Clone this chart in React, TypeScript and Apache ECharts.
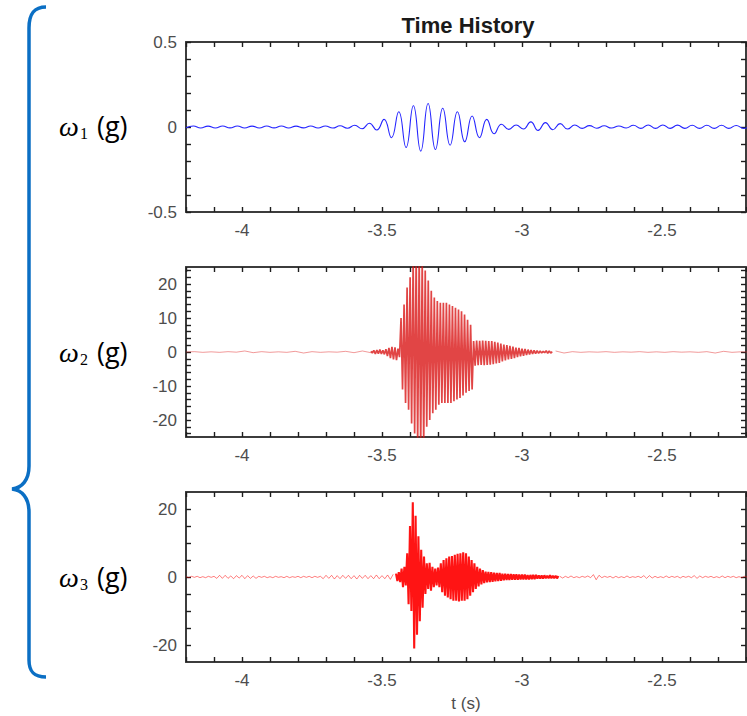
import React, { useEffect, useRef } from 'react';
import * as echarts from 'echarts';

// ---- axis ranges / ticks / labels ----
const X_MIN = -4.2;
const X_MAX = -2.2;
const X_TICKS = [-4.2, -4.1, -4, -3.9, -3.8, -3.7, -3.6, -3.5, -3.4, -3.3, -3.2, -3.1, -3, -2.9, -2.8, -2.7, -2.6, -2.5, -2.4, -2.3, -2.2];
const X_LABELS = [-4, -3.5, -3, -2.5];

const Y1_RANGE = [-0.5, 0.5];
const Y1_TICKS = [-0.5, -0.4, -0.3, -0.2, -0.1, 0, 0.1, 0.2, 0.3, 0.4, 0.5];
const Y1_LABELS = [-0.5, 0, 0.5];

const Y2_RANGE = [-25, 25];
const Y2_TICKS = [-24, -22, -20, -18, -16, -14, -12, -10, -8, -6, -4, -2, 0, 2, 4, 6, 8, 10, 12, 14, 16, 18, 20, 22, 24];
const Y2_LABELS = [-20, -10, 0, 10, 20];

const Y3_RANGE = [-25, 25];
const Y3_TICKS = [-20, -15, -10, -5, 0, 5, 10, 15, 20];
const Y3_LABELS = [-20, 0, 20];

// ---- ω1: sampled at peaks / troughs (start time, sample step, values) ----
const W1_T0 = -4.2;
const W1_DT = 0.0262;
const W1_VALUES = [
  -0.005, 0.006, -0.006, 0.005, -0.006, 0.006, -0.005, 0.006, -0.006, 0.005,
  -0.006, 0.006, -0.005, 0.006, -0.006, 0.005, -0.005, 0.006, -0.006, 0.006,
  -0.006, 0.007, -0.007, 0.01, -0.01, 0.022, -0.018, 0.045, -0.063, 0.09,
  -0.12, 0.125, -0.142, 0.138, -0.132, 0.11, -0.107, 0.09, -0.087, 0.065,
  -0.063, 0.045, -0.04, 0.016, -0.014, 0.012, -0.012, 0.03, -0.02, 0.026,
  -0.016, 0.02, -0.012, 0.012, -0.008, 0.008, -0.007, 0.007, -0.006, 0.006,
  -0.006, 0.01, -0.008, 0.012, -0.008, 0.012, -0.008, 0.011, -0.008, 0.01,
  -0.008, 0.01, -0.008, 0.01, -0.008, 0.009, -0.008, 0.009,
];

// ---- ω2: quiet lead-in, burst, quiet tail ----
const W2_A_T0 = -4.2;
const W2_A_DT = 0.03;
const W2_A_VALUES = [0, 0.1, -0.1, 0.05, -0.1, 0.1, -0.05, 0.3, -0.2, 0.1, -0.1, 0.05, -0.1, 0.2, -0.3, 0.1, -0.1, 0.05, -0.05, 0.2, -0.2, 0.3, -0.2];
const W2_B_T0 = -3.54;
const W2_B_DT = 0.0054;
const W2_B_VALUES = [
  0.2, -0.3, 0.5, -0.6, 0.6, -0.5, 0.7, -0.6, 0.5, -0.7,
  0.8, -1.2, 1.2, -1.8, 1.5, -2.2, 1.4, -2.4, 1.0, -1.5,
  10, -11, 14, -15, 19, -17, 22, -21, 27, -24,
  28, -27, 28, -28, 27, -27, 24, -22, 21, -20,
  18, -18, 16, -17, 15, -15.5, 14.5, -15, 14.5, -15,
  14.5, -15, 14, -15, 13.5, -14.5, 13, -14, 12.5, -13.5,
  12, -12.8, 11, -12, 9.5, -11.5, 8, -11, 3.2, -4,
  3.4, -3.9, 3.3, -3.8, 3.4, -3.9, 3.3, -3.8, 3.2, -3.7,
  3.2, -3.6, 3.0, -3.4, 2.8, -3.2, 2.5, -2.8, 2.2, -2.5,
  2.0, -2.2, 1.8, -2.0, 1.6, -1.8, 1.3, -1.5, 1.2, -1.3,
  1.0, -1.1, 0.9, -0.9, 0.7, -0.7, 0.6, -0.6, 0.5, -0.5,
  0.4, -0.4, 0.3, -0.3, 0.2, -0.2, 0.4, -0.4, 0.3, -0.3,
  0.1,
];
const W2_C_T0 = -2.88;
const W2_C_DT = 0.03;
const W2_C_VALUES = [0.3, -0.3, 0.1, -0.1, 0.05, -0.05, 0.1, -0.1, 0.05, -0.05, 0.1, -0.1, 0.05, -0.1, 0.1, -0.05, 0.05, -0.1, 0.1, -0.3, 0.2, -0.1, 0.05, 0];

// ---- ω3: quiet lead-in, burst, quiet tail ----
const W3_A_T0 = -4.2;
const W3_A_DT = 0.01;
const W3_A_VALUES = [
  0.1, -0.2, 0.2, -0.1, 0.2, -0.2, 0.1, -0.2, 0.2, -0.1, 0.2,
  -0.4, 0.5, -0.4, 0.5, -0.4, 0.3, -0.5, 0.4, -0.3, 0.5, -0.5, 0.4, -0.4, 0.3, -0.4,
  0.2, -0.1, 0.2, -0.2, 0.1, -0.2, 0.2, -0.1, 0.1, -0.2, 0.2, -0.2, 0.1, -0.1, 0.2, -0.2, 0.2, -0.1, 0.2, -0.2, 0.2, -0.1, 0.2,
  -0.5, 0.5, -0.4, 0.5, -0.6, 0.4, -0.5, 0.5, -0.4, 0.5, -0.5, 0.4, -0.6, 0.5, -0.4, 0.5, -0.5, 0.4, -0.5, 0.6, -0.5,
  0.4, -0.5, 0.6, -0.7, 0.8,
];
const W3_B_T0 = -3.45;
const W3_B_DT = 0.005;
const W3_B_VALUES = [
  1.0, -1.2, 1.4, -1.5, 2.5, -3, 3, -2.5, 7, -8,
  15, -10, 22, -21, 18, -17, 12, -13, 8, -9,
  6, -5, 4, -3.5, 4.2, -4, 3, -3, 2.5, -2.5,
  2.8, -3, 4, -4.5, 5, -5.5, 5.5, -6, 6, -6.5,
  6.2, -7, 6.5, -7, 6.8, -7.2, 7, -7, 7.3, -7,
  7, -6.5, 6, -5.5, 5, -4.5, 4, -3.5, 3, -2.8,
  2.5, -2.2, 2, -1.8, 1.6, -1.6, 1.5, -1.5, 1.4, -1.4,
  1.3, -1.3, 1.2, -1.2, 1.2, -1.1, 1.0, -1.0, 1.0, -0.9,
  0.9, -0.9, 0.9, -0.8, 0.8, -0.8, 0.8, -0.8, 0.7, -0.7,
  0.7, -0.7, 0.7, -0.7, 0.6, -0.7, 0.6, -0.6, 0.6, -0.6,
  0.6, -0.5, 0.5, -0.5, 0.5, -0.5, 0.5, -0.4, 0.4, -0.4,
  0.5, -0.4, 0.4, -0.4, 0.4, -0.4, 0.3,
];
const W3_C_T0 = -2.865;
const W3_C_DT = 0.01;
const W3_C_VALUES = [
  0.2, -0.3, 0.2, -0.2, 0.3, -0.2, 0.1, -0.2, 0.2, -0.1, 0.3, -0.2,
  0.7, -0.8, 0.5,
  -0.2, 0.2, -0.1, 0.2, -0.3, 0.2, -0.2, 0.1, -0.2, 0.3, -0.2, 0.1, -0.1, 0.2, -0.2,
  0.4, -0.4, 0.4, -0.3, 0.2, -0.2, 0.1, -0.2, 0.3, -0.2, 0.2, -0.1, 0.2, -0.3, 0.2,
  -0.1, 0.2, -0.2, 0.4, -0.4, 0.3, -0.2, 0.2, -0.1, 0.2, -0.2, 0.1, -0.2, 0.3, -0.2,
  0.2, -0.1, 0.2, -0.2, 0.1, -0.2, 0.2, -0.1, 0.2, -0.2,
];

const ROW_LABELS = ['1', '2', '3'];

// ---- helpers ----
const seg = (t0: number, dt: number, vals: number[]) => vals.map((v, i) => [t0 + i * dt, v]);
const isMult = (v: number, m: number) => Math.abs(v / m - Math.round(v / m)) < 1e-6;
const fmt = (v: number) => String(Math.round(v * 1000) / 1000);

const GRID_LEFT = 186;
const GRID_W = 560;
const GRID_TOPS = [42, 267, 492];
const GRID_H = 170;
const LABEL_Y = [126, 352, 577];

const AXIS_COLOR = '#3c3c3c';
const TICK_COLOR = '#1e1e1e';
const LABEL_COLOR = '#4d4d4d';
const FONT = '"Liberation Sans", Arial, sans-serif';

const BRACE_D = 'M46 7 C34 7 29 14 29 28 L29 466 C29 480 22 488 12 489 C22 490 29 498 29 512 L29 660 C29 672 34 677 46 677';

export default function App() {
  const ref = useRef<HTMLDivElement>(null);
  useEffect(() => {
    if (!ref.current) return;
    try {
      echarts.graphic.registerShape('brace', echarts.graphic.extendPath(BRACE_D, {}));
    } catch (e) {}
    const chart = echarts.init(ref.current, undefined, { renderer: 'svg' });

    const yCfg = [
      { range: Y1_RANGE, interval: 0.1, ticks: Y1_TICKS, labels: Y1_LABELS, mult: 0.5 },
      { range: Y2_RANGE, interval: 5, ticks: Y2_TICKS, labels: Y2_LABELS, mult: 10 },
      { range: Y3_RANGE, interval: 5, ticks: Y3_TICKS, labels: Y3_LABELS, mult: 20 },
    ];

    const grids = GRID_TOPS.map((top) => ({ left: GRID_LEFT, width: GRID_W, top, height: GRID_H, containLabel: false }));

    const axisLine = { show: true, onZero: false, lineStyle: { color: AXIS_COLOR, width: 2 } };
    const tickStyle = { color: TICK_COLOR, width: 1.4 };

    const xBottom = GRID_TOPS.map((_, g) => ({
      type: 'value', gridIndex: g, position: 'bottom', min: X_MIN, max: X_MAX, interval: 0.1,
      axisLine, splitLine: { show: false },
      axisTick: { show: true, inside: true, length: 5, customValues: X_TICKS, lineStyle: tickStyle },
      axisLabel: {
        show: true, customValues: X_LABELS, margin: 10, fontSize: 17, color: LABEL_COLOR, fontFamily: FONT,
        formatter: (v: number) => (isMult(v, 0.5) ? fmt(v) : ''),
      },
    }));
    const xTop = GRID_TOPS.map((_, g) => ({
      type: 'value', gridIndex: g, position: 'top', min: X_MIN, max: X_MAX, interval: 0.1,
      axisLine, splitLine: { show: false },
      axisTick: { show: true, inside: true, length: 5, customValues: X_TICKS, lineStyle: tickStyle },
      axisLabel: { show: false },
    }));
    const yLeft = yCfg.map((c, g) => ({
      type: 'value', gridIndex: g, position: 'left', min: c.range[0], max: c.range[1], interval: c.interval,
      axisLine, splitLine: { show: false },
      axisTick: { show: true, inside: true, length: 5, customValues: c.ticks, lineStyle: tickStyle },
      axisLabel: {
        show: true, customValues: c.labels, margin: 9, fontSize: 17, color: LABEL_COLOR, fontFamily: FONT,
        formatter: (v: number) => (isMult(v, c.mult) ? fmt(v) : ''),
      },
    }));
    const yRight = yCfg.map((c, g) => ({
      type: 'value', gridIndex: g, position: 'right', min: c.range[0], max: c.range[1], interval: c.interval,
      axisLine, splitLine: { show: false },
      axisTick: { show: true, inside: true, length: 5, customValues: c.ticks, lineStyle: tickStyle },
      axisLabel: { show: false },
    }));

    const w1 = seg(W1_T0, W1_DT, W1_VALUES);
    const w2A = seg(W2_A_T0, W2_A_DT, W2_A_VALUES);
    const w2B = seg(W2_B_T0, W2_B_DT, W2_B_VALUES);
    const w2C = seg(W2_C_T0, W2_C_DT, W2_C_VALUES);
    const w3A = seg(W3_A_T0, W3_A_DT, W3_A_VALUES);
    const w3B = seg(W3_B_T0, W3_B_DT, W3_B_VALUES);
    const w3C = seg(W3_C_T0, W3_C_DT, W3_C_VALUES);

    const graphic: any[] = [
      { type: 'brace', x: 0, y: 0, style: { stroke: '#0B6FC4', lineWidth: 3.5, fill: 'none' } },
      {
        type: 'text', x: GRID_LEFT + GRID_W / 2 + 2, y: 25,
        style: { text: 'Time History', fontSize: 22, fontWeight: 'bold', fontFamily: FONT, fill: '#1a1a1a', align: 'center', verticalAlign: 'middle' },
      },
      {
        type: 'text', x: GRID_LEFT + GRID_W / 2, y: 703,
        style: { text: 't (s)', fontSize: 17, fontFamily: FONT, fill: LABEL_COLOR, align: 'center', verticalAlign: 'middle' },
      },
    ];
    ROW_LABELS.forEach((n, i) => {
      const y = LABEL_Y[i];
      graphic.push(
        { type: 'text', x: 59, y, style: { text: 'ω', fontSize: 28, fontStyle: 'italic', fontFamily: '"Liberation Serif", serif', fill: '#000', align: 'left', verticalAlign: 'middle' } },
        { type: 'text', x: 80, y: y + 7, style: { text: n, fontSize: 16, fontFamily: '"Liberation Serif", serif', fill: '#000', align: 'left', verticalAlign: 'middle' } },
        { type: 'text', x: 97, y: y - 1, style: { text: '(g)', fontSize: 27, fontFamily: '"Open Sans", sans-serif', fill: '#000', align: 'left', verticalAlign: 'middle' } },
      );
    });

    const s2 = { type: 'line', showSymbol: false, symbol: 'none', clip: true, xAxisIndex: 1, yAxisIndex: 1 };
    const s3 = { type: 'line', showSymbol: false, symbol: 'none', clip: true, xAxisIndex: 2, yAxisIndex: 2 };

    chart.setOption({
      animation: false,
      backgroundColor: '#fff',
      grid: grids,
      xAxis: [...xBottom, ...xTop],
      yAxis: [...yLeft, ...yRight],
      graphic,
      series: [
        { type: 'line', xAxisIndex: 0, yAxisIndex: 0, data: w1, showSymbol: false, symbol: 'none', smooth: true, clip: true, lineStyle: { color: '#2424ff', width: 1.1 } },
        { ...s2, data: w2A, lineStyle: { color: 'rgba(225,30,30,0.5)', width: 0.9 } },
        { ...s2, data: w2B, lineStyle: { color: 'rgba(218,22,22,0.8)', width: 1.7 } },
        { ...s2, data: w2C, lineStyle: { color: 'rgba(225,30,30,0.5)', width: 0.9 } },
        { ...s3, data: w3A, lineStyle: { color: 'rgba(255,0,0,0.5)', width: 1 } },
        { ...s3, data: w3B, lineStyle: { color: 'rgba(255,0,0,0.92)', width: 2.1 } },
        { ...s3, data: w3C, lineStyle: { color: 'rgba(255,0,0,0.5)', width: 1 } },
      ],
    } as any);

    return () => chart.dispose();
  }, []);

  return <div ref={ref} style={{ position: 'absolute', left: 0, top: 0, width: 747, height: 716 }} />;
}
